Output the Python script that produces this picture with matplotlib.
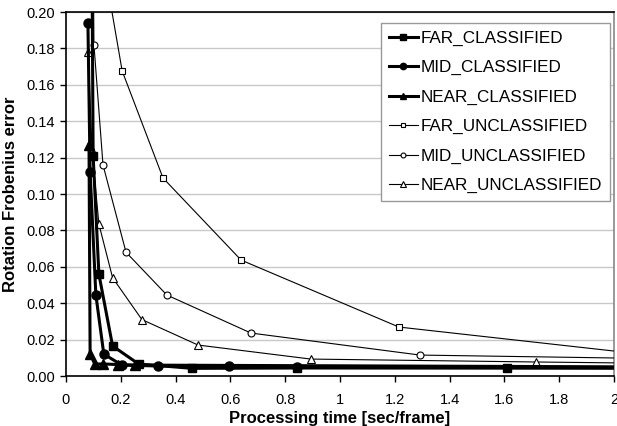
import matplotlib
matplotlib.use("Agg")
import matplotlib.pyplot as plt
from matplotlib.ticker import FuncFormatter, MultipleLocator

plt.rcParams['font.family'] = ['Liberation Sans', 'DejaVu Sans']

far_c_x = [0.094, 0.099, 0.12, 0.17, 0.265, 0.46, 0.843, 1.61, 3.0]
far_c_y = [0.25, 0.121, 0.056, 0.0165, 0.0066, 0.0042, 0.0044, 0.0044, 0.0042]
mid_c_x = [0.08, 0.088, 0.109, 0.138, 0.204, 0.336, 0.595, 0.843, 3.0]
mid_c_y = [0.194, 0.112, 0.0445, 0.012, 0.006, 0.0055, 0.0055, 0.0047, 0.0042]
near_c_x = [0.084, 0.088, 0.105, 0.135, 0.19, 0.25, 3.0]
near_c_y = [0.127, 0.012, 0.0066, 0.0066, 0.0063, 0.006, 0.0045]
far_u_x = [0.13, 0.205, 0.354, 0.639, 1.215, 2.4]
far_u_y = [0.233, 0.1676, 0.1088, 0.0637, 0.0269, 0.007]
mid_u_x = [0.098, 0.102, 0.135, 0.219, 0.368, 0.675, 1.292, 2.4]
mid_u_y = [0.25, 0.182, 0.116, 0.068, 0.0445, 0.0236, 0.0115, 0.009]
near_u_x = [0.081, 0.095, 0.12, 0.17, 0.277, 0.482, 0.894, 1.715, 2.6]
near_u_y = [0.178, 0.124, 0.0835, 0.054, 0.031, 0.017, 0.0093, 0.0077, 0.0062]

fig = plt.figure(figsize=(6.17, 4.26), dpi=100)
ax = fig.add_axes([66/617, 50/426, 548/617, 364/426])

thick = dict(color='black', lw=2.2, zorder=4)
thin = dict(color='black', lw=0.8, mfc='white', mec='black', mew=0.8, zorder=3)

ax.plot(far_c_x, far_c_y, marker='s', ms=6, label='FAR_CLASSIFIED', **thick)
ax.plot(mid_c_x, mid_c_y, marker='o', ms=6.5, label='MID_CLASSIFIED', **thick)
ax.plot(near_c_x, near_c_y, marker='^', ms=6.5, label='NEAR_CLASSIFIED', **thick)
ax.plot(far_u_x, far_u_y, marker='s', ms=5, label='FAR_UNCLASSIFIED', **thin)
ax.plot(mid_u_x, mid_u_y, marker='o', ms=5, label='MID_UNCLASSIFIED', **thin)
ax.plot(near_u_x, near_u_y, marker='^', ms=5.5, label='NEAR_UNCLASSIFIED', **thin)

ax.set_xlim(0, 2)
ax.set_ylim(0, 0.2)
ax.xaxis.set_major_locator(MultipleLocator(0.2))
ax.yaxis.set_major_locator(MultipleLocator(0.02))
ax.xaxis.set_major_formatter(FuncFormatter(lambda v, p: ('%.1f' % v).rstrip('0').rstrip('.') if v else '0'))
ax.yaxis.set_major_formatter(FuncFormatter(lambda v, p: '%.2f' % v))
ax.grid(axis='y', color='#c8c8c8', lw=1.0, zorder=0)
ax.set_axisbelow(True)
ax.tick_params(direction='out', length=4, width=1, labelsize=10.5, colors='black', pad=4)
ax.tick_params(axis='x', pad=8)

for s in ['left', 'bottom', 'top']:
    ax.spines[s].set_color('black')
    ax.spines[s].set_linewidth(1.2)
ax.spines['right'].set_color('#888888')
ax.spines['right'].set_linewidth(1.2)

ax.set_xlabel('Processing time [sec/frame]', fontsize=12, fontweight='bold', labelpad=3)
ax.set_ylabel('Rotation Frobenius error', fontsize=12, fontweight='bold', labelpad=6)

leg = ax.legend(loc='upper left', bbox_to_anchor=(0.575, 0.97), fontsize=12.3,
                frameon=True, fancybox=False, edgecolor='#999999', framealpha=1,
                handlelength=1.7, handletextpad=0.15, labelspacing=0.84,
                borderpad=0.45, borderaxespad=0, markerscale=0.7)
leg.get_frame().set_linewidth(1.0)
leg.set_zorder(10)

fig.savefig('out.png', dpi=100)
